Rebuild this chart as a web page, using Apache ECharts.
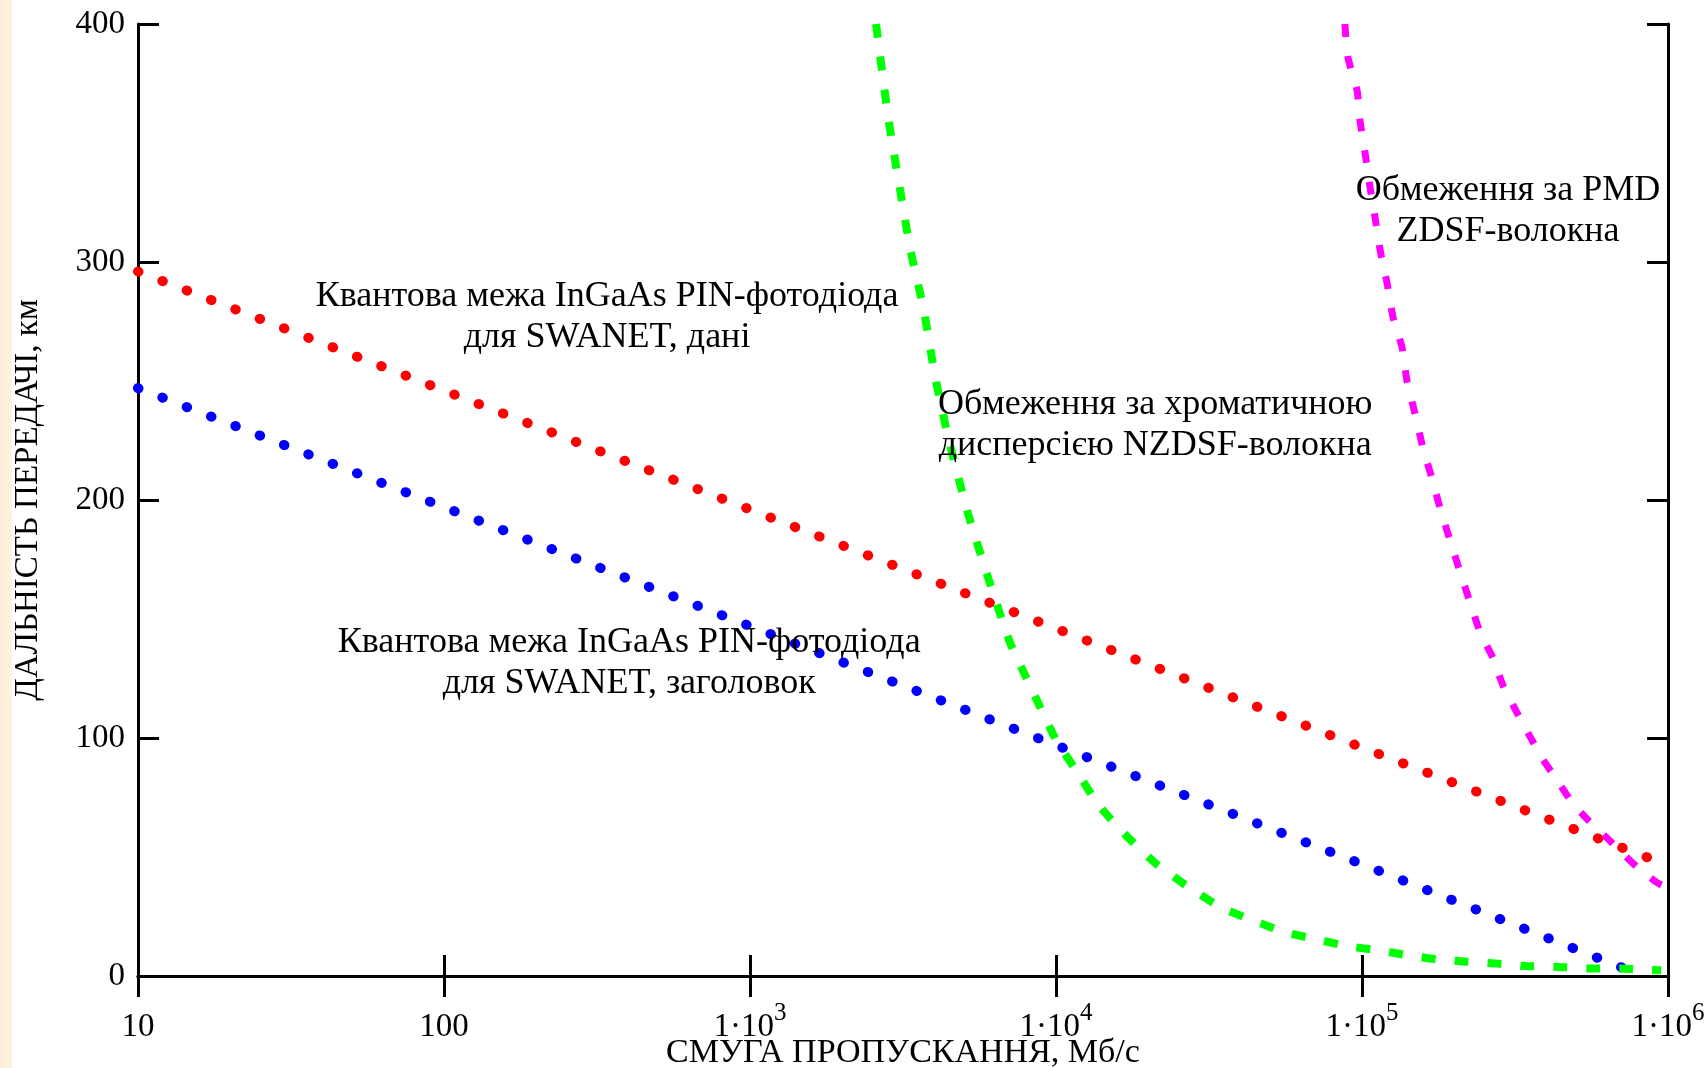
<!DOCTYPE html>
<html style="height: 100%">
    <head>
        <meta charset="utf-8">
    </head>
    <body style="height: 100%; margin: 0; background: linear-gradient(to right, #fcecd4 0, #fdf3e4 12px, #ffffff 12px);">
        <div id="container" style="height: 1068px; width: 1706px;"></div>
        <script type="text/javascript" src="https://cdn.jsdelivr.net/npm/echarts@6/dist/echarts.min.js"></script>
        <script type="text/javascript">
// bandwidth (Mb/s) / distance (km)
var redX = [10, 100, 1e3, 1e4, 1e5, 1e6];
var redY = [296, 246, 196, 146, 96, 46.5];

var blueX = [10, 100, 1e3, 1e4, 1e5, 8e5];
var blueY = [247, 197, 147, 97, 47, 0.8];

var greenX = [2582, 2831, 3069, 3334, 3707, 4027, 4477, 4853, 5164, 6012, 7079, 8020, 8870, 10050,
    11690, 13750, 16800, 21300, 27400, 34800, 44700, 56700, 71100, 89100, 111700, 140000, 175400,
    219800, 272000, 341000, 427000, 542000, 696000, 883000, 950000];
var greenY = [400, 360.4, 333, 306, 279, 251.8, 224.5, 207, 194, 167, 140, 125, 113, 98.7,
    86, 72, 59.5, 47, 37, 28.7, 23, 18.2, 15.4, 12.6, 10.9, 8.8, 7.0,
    6.0, 5.3, 4.2, 3.9, 3.2, 3.2, 2.5, 2.4];

var magX = [87900, 89950, 96400, 98400, 102300, 106200, 110200, 114600, 120800, 126200, 135200,
    140300, 148900, 158100, 169400, 179900, 194100, 208900, 225400, 243200, 267900, 289100,
    321400, 359700, 390800, 433500, 485300, 548300, 632400, 707900, 798000, 926800, 980000];
var magY = [400, 386, 372, 360, 346, 331.5, 319, 305, 291, 277, 264,
    250, 236.5, 222, 209, 196.6, 183, 170, 157, 144.5, 133.6, 122,
    110.5, 99, 90.8, 82.4, 73, 65.5, 58, 51.7, 45.4, 39, 37.5];

var yTicks = [0, 100, 200, 300, 400];

// annotations: text and anchor in data units
var noteText = [
    'Квантова межа InGaAs PIN-фотодіода\nдля SWANET, дані',
    'Квантова межа InGaAs PIN-фотодіода\nдля SWANET, заголовок',
    'Обмеження за хроматичною\nдисперсією NZDSF-волокна',
    'Обмеження за PMD\nZDSF-волокна'
];
var noteAt = [[341, 276.8], [403, 131.7], [21100, 231.5], [300000, 321.5]];

var FONT = "'Liberation Serif', 'Times New Roman', serif";

function pairs(xs, ys) {
    return xs.map(function (x, i) { return [x, ys[i]]; });
}

function note(i) {
    return {
        coord: noteAt[i],
        symbol: 'rect',
        symbolSize: 0,
        label: {
            show: true,
            position: 'inside',
            formatter: noteText[i],
            color: '#000',
            fontFamily: FONT,
            fontSize: 36,
            lineHeight: 41
        }
    };
}

var dom = document.getElementById("container");
var myChart = echarts.init(dom);

var axisLine = {show: true, lineStyle: {color: '#000', width: 3}};
var tick = {show: true, inside: true, length: 21, lineStyle: {color: '#000', width: 3}};

var option = {
    animation: false,
    grid: {left: 138, right: 38, top: 24, bottom: 92, show: false, containLabel: false, outerBoundsMode: 'none'},
    xAxis: [
        {
            type: 'log', logBase: 10, min: 10, max: 1e6,
            position: 'bottom',
            axisLine: axisLine, axisTick: tick,
            splitLine: {show: false}, minorTick: {show: false},
            name: 'СМУГА ПРОПУСКАННЯ, Мб/с',
            nameLocation: 'middle',
            nameGap: 60,
            nameMoveOverlap: false,
            nameTextStyle: {fontFamily: FONT, fontSize: 34, color: '#000'},
            axisLabel: {
                margin: 25,
                verticalAlign: 'top',
                formatter: function (v) {
                    var e = Math.round(Math.log10(v));
                    if (e <= 2) return '{b|' + Math.round(v) + '}';
                    return '{b|1·10}{s|' + e + '}';
                },
                rich: {
                    b: {fontFamily: FONT, fontSize: 33, lineHeight: 33, color: '#000', verticalAlign: 'top', padding: [10, 0, 0, 0]},
                    s: {fontFamily: FONT, fontSize: 25, lineHeight: 25, color: '#000', verticalAlign: 'top'}
                }
            }
        },
        {
            type: 'log', logBase: 10, min: 10, max: 1e6,
            position: 'top',
            axisLine: axisLine, axisTick: tick,
            axisLabel: {show: false},
            splitLine: {show: false}, minorTick: {show: false}
        }
    ],
    yAxis: [
        {
            type: 'value', min: 0, max: 400, interval: 100,
            position: 'left',
            axisLine: axisLine, axisTick: tick,
            splitLine: {show: false},
            name: 'ДАЛЬНІСТЬ ПЕРЕДАЧІ, км',
            nameLocation: 'middle',
            nameGap: 93,
            nameMoveOverlap: false,
            nameTextStyle: {fontFamily: FONT, fontSize: 33, color: '#000'},
            axisLabel: {
                margin: 13,
                fontFamily: FONT, fontSize: 33, color: '#000',
                padding: [10, 0, 0, 0],
                formatter: function (v) { return yTicks.indexOf(v) >= 0 ? String(v) : ''; }
            }
        },
        {
            type: 'value', min: 0, max: 400, interval: 100,
            position: 'right',
            axisLine: axisLine, axisTick: tick,
            axisLabel: {show: false},
            splitLine: {show: false}
        }
    ],
    series: [
        {
            type: 'line', name: 'data', data: pairs(redX, redY),
            showSymbol: false, symbol: 'none',
            lineStyle: {color: '#ff0000', width: 10, type: [0.5, 25.6], cap: 'round'},
            markPoint: {data: [note(0)]}
        },
        {
            type: 'line', name: 'header', data: pairs(blueX, blueY),
            showSymbol: false, symbol: 'none',
            lineStyle: {color: '#0000ff', width: 10, type: [0.5, 25.6], cap: 'round'},
            markPoint: {data: [note(1)]}
        },
        {
            type: 'line', name: 'cd', data: pairs(greenX, greenY),
            showSymbol: false, symbol: 'none', smooth: 0.2,
            lineStyle: {color: '#00ff00', width: 8, type: [14, 19], cap: 'butt'},
            markPoint: {data: [note(2)]}
        },
        {
            type: 'line', name: 'pmd', data: pairs(magX, magY),
            showSymbol: false, symbol: 'none', smooth: 0.2,
            lineStyle: {color: '#ff00ff', width: 7, type: [13, 19], cap: 'butt'},
            markPoint: {data: [note(3)]}
        }
    ]
};

myChart.setOption(option);
        </script>
    </body>
</html>
